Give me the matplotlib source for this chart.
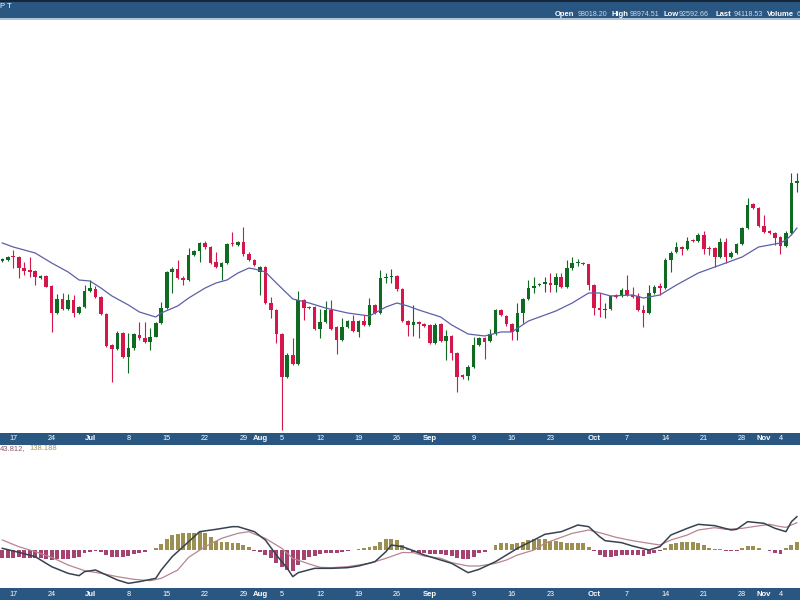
import matplotlib
matplotlib.use("Agg")
import matplotlib.pyplot as plt
import matplotlib.dates as mdates
import numpy as np
import pandas as pd

plt.rcParams['font.family'] = ['Liberation Sans', 'DejaVu Sans']

# ---------------- data (daily candles, 2024-06-15 .. 2024-11-07) ----------------
start_date = "2024-06-15"
opens = [67070, 67180, 67610, 67540, 66360, 66110, 66040, 65220, 65470, 64400, 61470, 63010, 61900, 62900, 61470, 62120,
         63900, 64110, 63260, 61400, 58090, 57660, 59400, 56770, 57730, 59150, 58800, 58440, 58980, 60400, 62010, 65930,
         66220, 65220, 65040, 67720, 68140, 69040, 68540, 67000, 66470, 66820, 68960, 68790, 69140, 67790, 67180,
         65930, 66400, 62620, 61830, 59260, 54700, 57020, 56020, 62900, 62190, 62120, 59800, 60510, 61830, 59980, 58620,
         60050, 60690, 59510, 60690, 60230, 62370, 61550, 65220, 65400, 65470, 64040, 60690, 60230, 60580, 60300,
         60220, 58330, 60300, 58510, 59050, 57190, 54870, 54770, 55770, 58090, 58800, 58510, 59260, 61830, 61190, 60300,
         59510, 61540, 62970, 64150, 64470, 64610, 64760, 64500, 65400, 64330, 66290, 66820, 66900, 66720,
         64500, 62080, 61870, 61900, 63430, 63330, 63970, 63430, 63330, 61830, 61470, 63680, 64400, 64150, 67180, 68040,
         68540, 68390, 69320, 69250, 69860, 68430, 68430, 67540, 69140, 67540, 67970, 68890, 70570, 73140, 72710,
         70820, 70320, 70110, 69610, 68680, 70110, 75460]
highs = [67400, 67650, 68250, 67600, 67000, 67470, 66150, 65600, 65550, 64500, 63540, 63610, 63540, 63440, 62300, 64500,
         65040, 64400, 63350, 61500, 58200, 59550, 59500, 59330, 59350, 60580, 60580, 59870, 60550, 62720, 66050, 66470,
         67180, 65500, 68430, 68250, 69150, 69200, 68650, 68070, 67000, 69040, 70140, 69250, 70680, 68070, 67300,
         66500, 66500, 63260, 61950, 59400, 57200, 58800, 63860, 63000, 62300, 62250, 61940, 62790, 62900, 60100, 61010,
         60800, 61300, 60800, 61300, 63080, 62500, 66110, 65750, 66180, 65600, 64150, 60800, 62370, 60700, 60400,
         60350, 60400, 60400, 59690, 59150, 57300, 55000, 55900, 58980, 58900, 58950, 59800, 61950, 61950, 61300, 60400,
         62620, 63100, 65040, 65330, 64700, 65400, 65830, 65750, 65750, 67180, 67540, 67250, 67000, 66800,
         64600, 63610, 62540, 63450, 63550, 64150, 65580, 64330, 63610, 62370, 64500, 64500, 64680, 67430, 68100, 69140,
         68650, 69610, 69400, 70110, 70320, 68680, 68550, 69570, 69500, 68100, 69000, 70750, 73780, 73240, 72800,
         72000, 70400, 70200, 69700, 70300, 76450, 76450]
lows = [66950, 67100, 66290, 65220, 65580, 65400, 64500, 65150, 64250, 59510, 61400, 61800, 61800, 61120, 61400, 62000,
        63800, 63150, 61250, 57900, 54160, 57550, 56700, 55050, 57600, 58650, 58300, 57550, 58900, 60300, 61900, 63610,
        65100, 64500, 64900, 67600, 67000, 68400, 66750, 66350, 65040, 66700, 68700, 68650, 67650, 67050, 66500,
        63440, 62500, 60940, 58260, 48990, 54550, 55900, 55900, 60760, 61950, 59650, 58800, 60400, 59650, 57090, 58500,
        59950, 59450, 58980, 60100, 60100, 61400, 61400, 64680, 64680, 63900, 60550, 59050, 59050, 58800, 60000,
        58200, 58200, 58400, 56480, 56480, 53090, 54500, 54340, 55650, 57950, 56550, 58400, 59150, 61150, 60150, 58620,
        58620, 60400, 62850, 63610, 64380, 63790, 63790, 63790, 64150, 64200, 66150, 66540, 66600, 63970,
        61300, 61120, 60940, 61800, 63150, 63250, 63350, 63150, 61700, 60050, 61350, 63550, 63430, 64050, 65930, 67900,
        67720, 68250, 69100, 69150, 67820, 67720, 66470, 67400, 66820, 67400, 67850, 68750, 70450, 72600, 70700,
        70100, 70000, 68790, 67820, 68550, 70000, 74490]
closes = [67290, 67540, 67470, 66290, 66000, 65930, 65330, 65470, 64330, 61470, 63010, 61940, 62900, 61470, 62190, 63900,
          64150, 63260, 61370, 58010, 57620, 59400, 56840, 57730, 59230, 58800, 58440, 58980, 60400, 62010, 65930, 66220,
          65220, 65040, 67720, 68140, 69040, 68540, 66900, 66470, 66900, 68890, 68860, 69140, 67790, 67180, 66650,
          66400, 62620, 61830, 59260, 54700, 57020, 56020, 62900, 62080, 62080, 59800, 60510, 61830, 59800, 58620, 60050,
          60690, 59580, 60690, 60230, 62370, 61550, 65290, 65360, 65500, 64040, 60690, 60230, 60580, 60300, 60120,
          58330, 60220, 58510, 59050, 57190, 54700, 54630, 55770, 58090, 58800, 58440, 59260, 61830, 61290, 60300, 59510,
          61540, 62970, 64150, 64400, 64610, 64830, 64500, 65400, 64330, 66290, 66900, 66970, 66720, 64500,
          62010, 61830, 61970, 63330, 63260, 63970, 63430, 63260, 61830, 61470, 63680, 64330, 64220, 67180, 67970, 68540,
          68320, 69250, 69210, 69860, 68320, 68320, 67540, 69140, 67540, 67970, 68890, 70640, 73070, 72710, 70820,
          70210, 70110, 69500, 68680, 70110, 75460, 75670]

# moving average overlay (read at points, day offset from start_date)
ma_days = [0, 2, 6, 9, 12, 14, 16, 18, 20, 23, 25, 28, 29, 32, 34, 37, 39, 41, 43, 45, 46, 48, 50, 53, 56, 59, 63, 67,
           68, 70, 72, 74, 76, 80, 82, 85, 88, 91, 93, 96, 101, 104, 107, 109, 111, 115, 117, 120, 123, 127, 131, 135,
           138, 142, 143, 144, 145]
ma_values = [69000, 68570, 67930, 66860, 65900, 65040, 64930, 64180, 63330, 62370, 61620, 61080, 61510, 62260, 63110,
             64180, 64720, 65040, 65790, 66320, 66220, 65900, 64720, 63010, 62580, 62040, 61510, 61190, 61510, 62150,
             62580, 62260, 61830, 61080, 60230, 59260, 59050, 59480, 59480, 60650, 61720, 62580, 63650, 63650, 63330,
             63440, 63110, 63440, 64500, 65790, 66640, 67500, 68570, 69000, 69320, 69860, 70600]

# MACD(12,26,9) lines (read at points) and daily histogram
macd_days = [0, 3, 6, 9, 12, 14, 15, 17, 19, 21, 23, 25, 28, 29, 31, 34, 36, 39, 42, 43, 46, 48, 50, 52, 53, 54, 57,
             60, 63, 65, 68, 70, 71, 73, 75, 77, 80, 82, 85, 87, 90, 92, 94, 97, 99, 102, 104, 105, 107, 109, 110, 113,
             115, 118, 120, 122, 125, 127, 130, 133, 134, 136, 139, 141, 143, 144, 145]
macd_values = [100, -140, -400, -1000, -1400, -1540, -1300, -1200, -1500, -1800, -2000, -1900, -1700, -1200, -400, 500,
               1100, 1240, 1400, 1400, 1100, 600, -300, -1100, -1600, -1360, -1100, -1100, -1060, -960, -700, -100, 300,
               200, -40, -300, -600, -800, -1360, -1160, -700, -300, 100, 600, 940, 1100, 1360, 1500, 1400, 800, 560,
               440, 240, 0, 200, 900, 1300, 1540, 1460, 1200, 1240, 1700, 1600, 1300, 1100, 1700, 2000]
signal_days = [0, 3, 6, 9, 12, 15, 18, 21, 24, 27, 29, 32, 34, 37, 40, 43, 45, 46, 48, 51, 53, 56, 58, 60, 63, 67, 70,
               73, 75, 77, 80, 82, 85, 87, 90, 92, 94, 97, 99, 102, 104, 107, 109, 112, 115, 118, 120, 122, 125, 127,
               130, 132, 135, 137, 140, 142, 143, 145]
signal_values = [600, 200, -100, -440, -900, -1240, -1400, -1600, -1760, -1840, -1700, -1200, -440, 200, 700, 1000,
                 1100, 960, 700, 100, -500, -840, -1040, -1060, -1000, -800, -500, -150, -160, -360, -500, -760, -960,
                 -960, -800, -600, -300, 0, 400, 760, 1000, 1200, 1040, 760, 560, 400, 300, 600, 900, 1200, 1340, 1240,
                 1300, 1400, 1540, 1400, 1360, 1640]
hist_values = [-500, -460, -460, -440, -500, -500, -500, -500, -540, -600, -560, -540, -540, -480, -400, -200, -100, -60,
               -100, -300, -400, -400, -400, -360, -240, -160, -100, 0, 140, 360, 640, 900, 940, 1000, 1040, 1040, 1060,
               1000, 760, 560, 500, 500, 440, 400, 300, 160, -40, -100, -300, -500, -760, -1040, -1200, -1240, -900,
               -600, -440, -360, -260, -200, -160, -160, -100, -40, 0, 40, 100, 200, 240, 500, 640, 660, 600,
               300, 40, -100, -160, -200, -240, -240, -240, -300, -360, -500, -560, -540, -400, -160, -100, 0, 300, 400,
               400, 340, 400, 500, 600, 660, 660, 640, 560, 540, 460, 440, 440, 440, 400, 200, -40, -300, -400, -400,
               -360, -300, -300, -300, -300, -360, -240, -160, -60, 100, 360, 440, 500, 500, 500, 440, 300, 100, 60,
               40, -40, -60, -40, 100, 240, 240, 140, 0, -60, -160, -240, 100, 300, 500]

tick_dates = ["2024-06-17", "2024-06-24", "2024-07-01", "2024-07-08", "2024-07-15", "2024-07-22", "2024-07-29",
              "2024-08-01", "2024-08-05", "2024-08-12", "2024-08-19", "2024-08-26", "2024-09-01", "2024-09-09",
              "2024-09-16", "2024-09-23", "2024-10-01", "2024-10-07", "2024-10-14", "2024-10-21", "2024-10-28",
              "2024-11-01", "2024-11-04"]
tick_labels = ["17", "24", "Jul", "8", "15", "22", "29", "Aug", "5", "12", "19", "26", "Sep", "9", "16", "23", "Oct",
               "7", "14", "21", "28", "Nov", "4"]
month_labels = {"Jul", "Aug", "Sep", "Oct", "Nov"}

header_items = [("Open", True), ("98018.20", False), ("High", True), ("98974.51", False), ("Low", True),
                ("92592.66", False), ("Last", True), ("94118.53", False), ("Volume", True), ("6", False)]
macd_readout = ["43.812", "138.188"]

# ---------------- styles ----------------
GREEN = "#0f6b22"
RED = "#d5164a"
BAND = "#2a5682"
MA_COLOR = "#5d5fa8"
MACD_COLOR = "#37424f"
SIG_COLOR = "#b88592"
POS_HIST = "#9c8f52"
NEG_HIST = "#a4436f"

W, H = 800, 600
fig = plt.figure(figsize=(8, 6), dpi=100)
fig.patch.set_facecolor("white")

def rect(top, bottom):
    return [0, 1 - bottom / H, 1, (bottom - top) / H]

dates = pd.date_range(start_date, periods=len(opens), freq="D")
xd = mdates.date2num(dates)
base = pd.Timestamp(start_date)
jul1 = mdates.date2num(pd.Timestamp("2024-07-01"))
px_per_day = 5.48
xlim = (jul1 - 90 / px_per_day, jul1 + (W - 90) / px_per_day)

def clean(ax):
    ax.set_xlim(*xlim)
    ax.set_xticks([])
    ax.set_yticks([])
    for s in ax.spines.values():
        s.set_visible(False)

# ---- header bar
axh = fig.add_axes(rect(0, 18))
axh.set_facecolor(BAND)
clean(axh)
fig.add_artist(plt.Rectangle((0, 1 - 1.5 / H), 1, 1.5 / H, transform=fig.transFigure, color="#17273a", lw=0))
fig.add_artist(plt.Rectangle((0, 1 - 19.5 / H), 1, 1.5 / H, transform=fig.transFigure, color="#b4c4d4", lw=0))
fig.text(0 / W, 1 - 7 / H, "P T", color="white", fontsize=5.5, va="center", ha="left")
hx = [555, 578, 612, 630, 663, 679, 715, 734, 767, 797]
for (txt, bold), x in zip(header_items, hx):
    fig.text(x / W, 1 - 14.5 / H, txt, color="white" if bold else "#d0dae6", fontsize=5.5 if bold else 5.1,
             fontweight="bold" if bold else "normal", va="center", ha="left")

# ---- price panel
axp = fig.add_axes(rect(19.5, 433))
clean(axp)
axp.set_ylim(95000 - 107 * 433, 95000 - 107 * 19.5)
o = np.array(opens); c = np.array(closes); hi = np.array(highs); lo = np.array(lows)
up = c >= o
cols = np.where(up, GREEN, RED)
axp.vlines(xd, lo, hi, colors=cols, linewidth=0.8, zorder=2)
body_bot = np.minimum(o, c)
body_h = np.maximum(np.abs(c - o), 60)
axp.bar(xd, body_h, bottom=body_bot, width=0.66, color=cols, linewidth=0, zorder=3)
ma_x = mdates.date2num([base + pd.Timedelta(days=d) for d in ma_days])
axp.plot(ma_x, ma_values, color=MA_COLOR, linewidth=0.9, zorder=4)

# ---- date bands
def band(top, bottom):
    ax = fig.add_axes(rect(top, bottom))
    ax.set_facecolor(BAND)
    clean(ax)
    ax.set_ylim(0, 1)
    tx = mdates.date2num(pd.to_datetime(tick_dates))
    for x, lab in zip(tx, tick_labels):
        isb = lab in month_labels
        ax.text(x, 0.48, lab, color="white", fontsize=5.6 if isb else 5.2,
                fontweight="bold" if isb else "normal", ha="center", va="center")
    return ax

band(433, 444.5)
band(588, 600)

# ---- MACD panel
axm = fig.add_axes(rect(444.5, 588))
clean(axm)
axm.set_ylim((550 - 588) * 60, (550 - 444.5) * 60)
hv = np.array(hist_values)
axm.bar(xd, hv, width=0.72, color=np.where(hv >= 0, POS_HIST, NEG_HIST), linewidth=0, zorder=2)
sig_x = mdates.date2num([base + pd.Timedelta(days=d) for d in signal_days])
macd_x = mdates.date2num([base + pd.Timedelta(days=d) for d in macd_days])
axm.plot(sig_x, signal_values, color=SIG_COLOR, linewidth=0.9, zorder=3)
axm.plot(macd_x, macd_values, color=MACD_COLOR, linewidth=1.1, zorder=4)

fig.text(0 / W, 1 - 449 / H, macd_readout[0] + ",", color="#8a5a6c", fontsize=5.5, va="center", ha="left")
fig.text(29 / W, 1 - 449 / H, macd_readout[1], color="#a6955c", fontsize=5.5, va="center", ha="left")

fig.savefig("out.png", dpi=100)
